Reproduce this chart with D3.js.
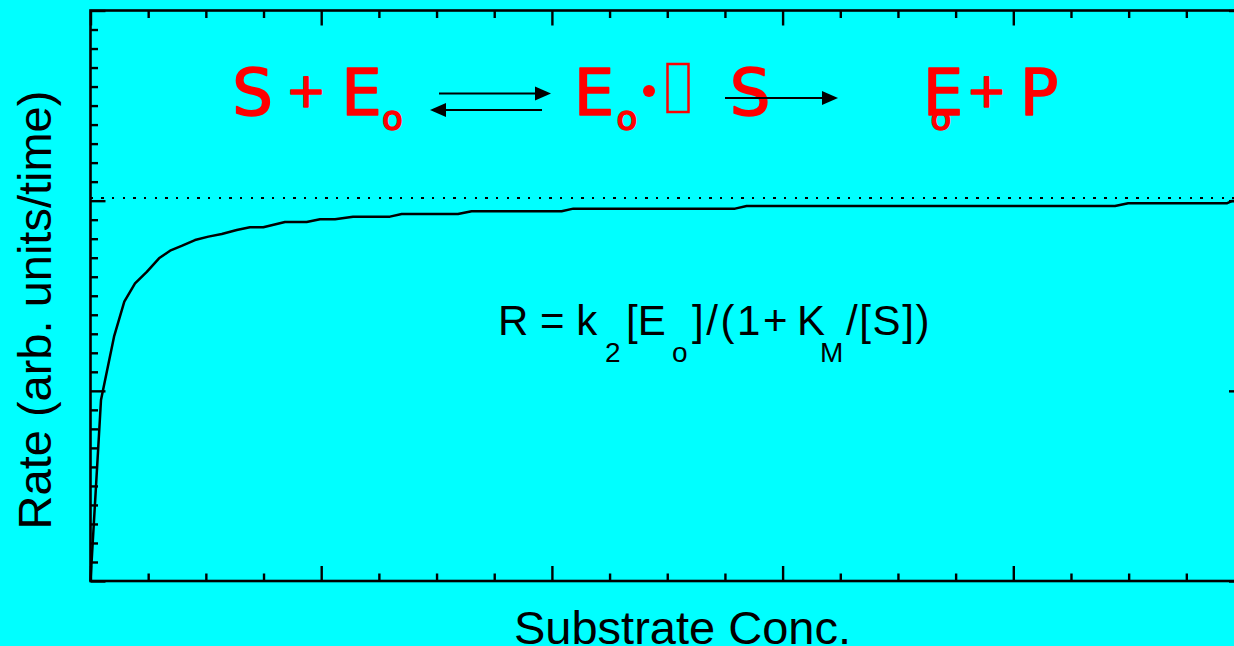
<!DOCTYPE html>
<html><head><meta charset="utf-8">
<script src="https://cdn.jsdelivr.net/npm/d3@7/dist/d3.min.js"></script>
<style>html,body{margin:0;padding:0;background:#00ffff;overflow:hidden}</style>
</head><body><svg id="c" width="1234" height="646"></svg>
<script>
// ---- data ----
const substrate = [0, 0.455, 1.02, 1.465, 1.93, 2.44, 2.97, 3.45, 3.95, 4.53, 5.11, 5.69, 6.34, 6.91, 7.49, 8.43, 9.37, 9.95, 10.6, 11.38, 12.98, 13.49, 15.93, 16.52, 20.42, 20.93, 27.94, 28.44, 44.41, 44.98, 49.25, 49.47, 50];
const rate      = [0, 0.952, 1.285, 1.469, 1.565, 1.626, 1.697, 1.737, 1.762, 1.793, 1.811, 1.825, 1.846, 1.860, 1.860, 1.888, 1.888, 1.902, 1.902, 1.916, 1.916, 1.930, 1.930, 1.944, 1.944, 1.958, 1.958, 1.972, 1.972, 1.986, 1.986, 1.998, 1.998];
const vmax = 2.012;
const xMajorTicks = [0, 10, 20, 30, 40, 50];
const xMinorTicks = [2.5, 5, 7.5, 12.5, 15, 17.5, 22.5, 25, 27.5, 32.5, 35, 37.5, 42.5, 45, 47.5];
const yMajorTicks = [0, 1, 2, 3];
const yMinorTicks = [0.1,0.2,0.3,0.4,0.5,0.6,0.7,0.8,0.9,1.1,1.2,1.3,1.4,1.5,1.6,1.7,1.8,1.9,2.1,2.2,2.3,2.4,2.5,2.6,2.7,2.8,2.9];
const xLabel = "Substrate Conc.";
const yLabel = "Rate (arb. units/time)";

// ---- drawing ----
const svg = d3.select("#c");
const L = 90.5, R = 1244, T = 10.5, B = 581;
const x = d3.scaleLinear().domain([0, 50]).range([L, R]);
const y = d3.scaleLinear().domain([0, 3]).range([B, T]);

svg.append("rect").attr("width", 1234).attr("height", 646).attr("fill", "#00ffff");

function ax(gen, scale, vals, size, tr) {
  const g = svg.append("g").attr("transform", tr)
    .call(gen(scale).tickValues(vals).tickSizeInner(size).tickSizeOuter(0).tickFormat(""));
  g.select(".domain").remove();
  g.selectAll(".tick line").attr("stroke", "#000").attr("stroke-width", 2.4);
}
ax(d3.axisTop, x, xMajorTicks, 15, `translate(0,${B})`);
ax(d3.axisTop, x, xMinorTicks, 7.5, `translate(0,${B})`);
ax(d3.axisBottom, x, xMajorTicks, 15, `translate(0,${T})`);
ax(d3.axisBottom, x, xMinorTicks, 7.5, `translate(0,${T})`);
ax(d3.axisRight, y, yMajorTicks, 15, `translate(${L},0)`);
ax(d3.axisRight, y, yMinorTicks, 7.5, `translate(${L},0)`);
ax(d3.axisLeft, y, yMajorTicks, 15, `translate(${R},0)`);
ax(d3.axisLeft, y, yMinorTicks, 7.5, `translate(${R},0)`);

svg.append("rect").attr("x", L).attr("y", T).attr("width", R - L).attr("height", B - T)
  .attr("fill", "none").attr("stroke", "#000").attr("stroke-width", 2.6);

// asymptote
svg.append("line").attr("x1", x(0)).attr("x2", x(50)).attr("y1", y(vmax)).attr("y2", y(vmax))
  .attr("stroke", "#000").attr("stroke-width", 2.2).attr("stroke-dasharray", "2.4 8.27")
  .attr("shape-rendering", "crispEdges");

// curve
const pts = substrate.map((s, i) => [s, rate[i]]);
svg.append("path").datum(pts)
  .attr("d", d3.line().x(d => x(d[0])).y(d => y(d[1])))
  .attr("fill", "none").attr("stroke", "#000").attr("stroke-width", 2.5).attr("stroke-linejoin", "round");

// axis labels
const sans = "'Liberation Sans', Arial, sans-serif";
svg.append("text").attr("x", 682.5).attr("y", 644).attr("text-anchor", "middle")
  .attr("font-family", sans).attr("font-size", 47).attr("fill", "#000").text(xLabel);
svg.append("text").attr("transform", "translate(51,310) rotate(-90)").attr("text-anchor", "middle")
  .attr("font-family", sans).attr("font-size", 47).attr("fill", "#000").text(yLabel);

// formula
const fparts = [
  {t: "R = k", x: 498, sub: false, ls: 0},
  {t: "2", x: 605, sub: true, ls: 0},
  {t: "[E", x: 626, sub: false, ls: 0},
  {t: "o", x: 672, sub: true, ls: 0},
  {t: "]/(1+", x: 692, sub: false, ls: 2.6},
  {t: "K", x: 797, sub: false, ls: 0},
  {t: "M", x: 820, sub: true, ls: 0},
  {t: "/[S])", x: 846, sub: false, ls: 1.6}
];
svg.selectAll("text.f").data(fparts).join("text").attr("class", "f")
  .attr("x", d => d.x).attr("y", d => d.sub ? 362 : 335)
  .attr("font-family", sans).attr("font-size", d => d.sub ? 28 : 42).attr("fill", "#000")
  .attr("letter-spacing", d => d.ls)
  .text(d => d.t);

// reaction scheme (red)
const rfont = "'DejaVu Sans', sans-serif";
const rparts = [
  {t: "S", x: 252.5, y: 115, s: 64},
  {t: "+", x: 306, y: 107, s: 48},
  {t: "E", x: 361.5, y: 115, s: 64},
  {t: "o", x: 392.5, y: 130, s: 34},
  {t: "E", x: 594, y: 115, s: 64},
  {t: "o", x: 627, y: 130, s: 34},
  {t: "S", x: 750, y: 115, s: 64},
  {t: "E", x: 943, y: 115, s: 64},
  {t: "o", x: 941, y: 130, s: 34},
  {t: "+", x: 986.5, y: 107, s: 48},
  {t: "P", x: 1039, y: 115, s: 64}
];
svg.selectAll("text.r").data(rparts).join("text").attr("class", "r")
  .attr("x", d => d.x).attr("y", d => d.y).attr("text-anchor", "middle")
  .attr("font-family", rfont).attr("font-size", d => d.s).attr("fill", "#ff0000")
  .attr("stroke", "#ff0000").attr("stroke-width", 1.6).attr("stroke-linejoin", "round").text(d => d.t);
svg.append("circle").attr("cx", 649).attr("cy", 91).attr("r", 6).attr("fill", "#ff0000");
svg.append("rect").attr("x", 667.5).attr("y", 64).attr("width", 21).attr("height", 48)
  .attr("fill", "none").attr("stroke", "#ff0000").attr("stroke-width", 2.5);

// arrows
function arrow(x1, x2, yy) {
  const dir = Math.sign(x2 - x1);
  svg.append("line").attr("x1", x1).attr("x2", x2 - dir * 10).attr("y1", yy).attr("y2", yy)
    .attr("stroke", "#000").attr("stroke-width", 2.2);
  svg.append("path").attr("d", `M${x2},${yy} L${x2 - dir * 16},${yy - 7} L${x2 - dir * 16},${yy + 7} Z`).attr("fill", "#000");
}
arrow(439, 551, 93.5);
arrow(542, 430, 110);
arrow(725, 838, 98);
</script></body></html>
